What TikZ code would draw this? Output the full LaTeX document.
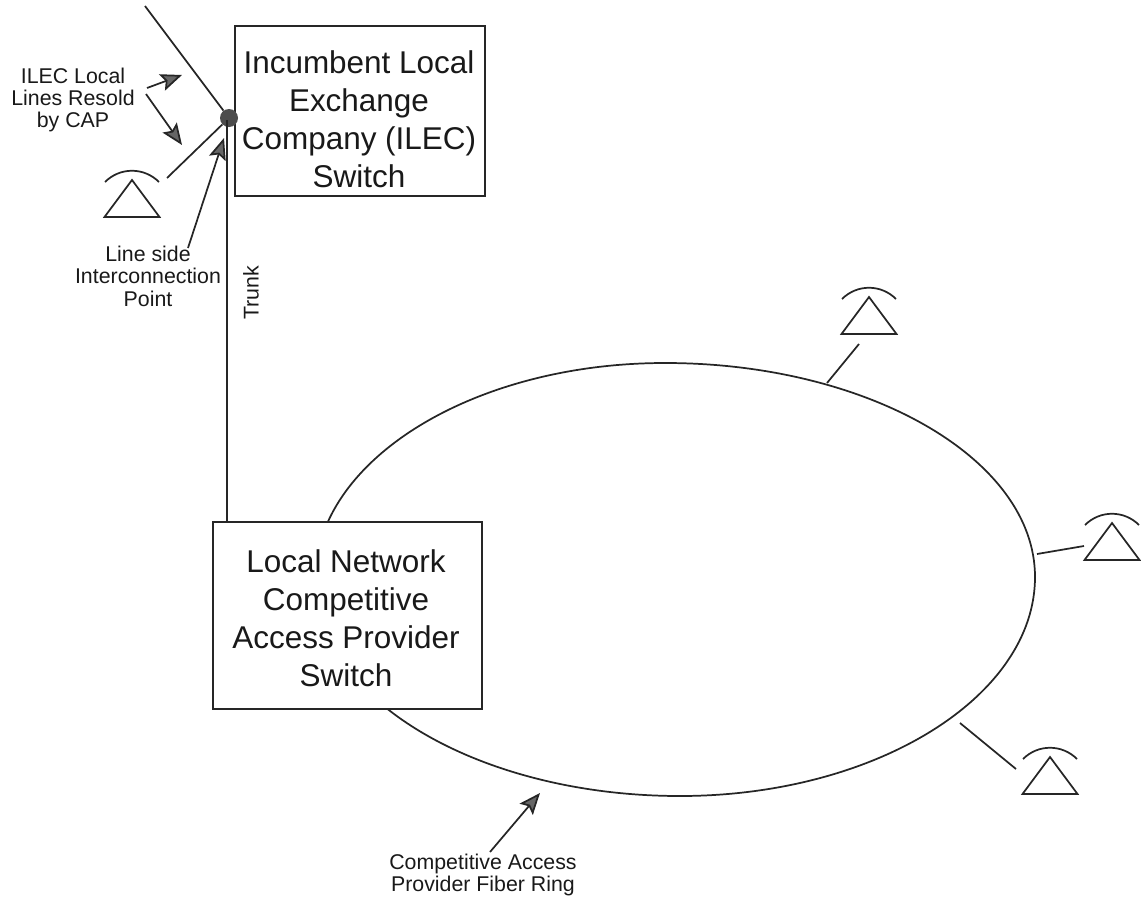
\documentclass[tikz,border=0pt]{standalone}
\usepackage{fontspec}
\setmainfont{Liberation Sans}
\usetikzlibrary{arrows.meta}
\tikzset{
  ln/.style={draw=black!85,line width=1.3pt},
  boxnode/.style={draw=black!85,line width=1.3pt,fill=white,inner sep=0pt,anchor=north west},
  bigtext/.style={font=\fontsize{23.6}{28.5}\selectfont,align=center,inner sep=0pt,text=black!90},
  smalltext/.style={font=\fontsize{16}{16.8}\selectfont,align=center,inner sep=0pt,text=black!90},
  ptr/.style={draw=black!85,line width=1.3pt,-{Stealth[length=16pt,width=13pt,inset=3pt,fill=black!60]}},
  phone/.pic={
    \draw[ln,line join=miter] (0,0) -- (-27.5,37) -- (27.5,37) -- cycle;
    \draw[ln] (-27,2) .. controls (-12,-13) and (12,-13) .. (27,2);
  }
}
\begin{document}
\begin{tikzpicture}[x=0.75pt,y=-0.75pt]
\useasboundingbox (0,0) rectangle (1141,903);
% ring
\draw[ln] (665,363) .. controls (868,363) and (1035,459) .. (1035,577)
  .. controls (1035,697) and (875,796) .. (680,796)
  .. controls (479,796) and (315,699) .. (315,580)
  .. controls (315,461) and (472,363) .. (665,363) -- cycle;
% trunk, lines
\coordinate (tr) at (227,120);
\node[boxnode,minimum width=269*0.75pt,minimum height=187*0.75pt] (cap) at (212,521) {};
\node[boxnode,fill=none,minimum width=250*0.75pt,minimum height=170*0.75pt] (ilec) at (234,25) {};
\node[circle,fill=black!70,inner sep=0pt,minimum size=13.5pt] (dot) at (229,118) {};
\draw[ln,line width=1.6pt] (tr) -- (tr |- cap.north);
\coordinate (lt) at (145,6);
\draw[ln] (lt) -- (dot);
\coordinate (p1) at (167,178);
\draw[ln] (p1) -- (dot);
% box text
\node[bigtext] (ilect) at (359,119) {Incumbent Local\\Exchange\\Company (ILEC)\\Switch};
\node[bigtext] (capt) at (346,618) {Local Network\\Competitive\\Access Provider\\Switch};
% phones
\pic at (132,180) {phone};
\pic at (869,297) {phone};
\pic at (1112,523) {phone};
\pic at (1050,757) {phone};
\coordinate (a1) at (827,383); \coordinate (a2) at (859,344);
\draw[ln] (a1) -- (a2);
\coordinate (b1) at (1037,554); \coordinate (b2) at (1084,546);
\draw[ln] (b1) -- (b2);
\coordinate (c1) at (960,723); \coordinate (c2) at (1016,769);
\draw[ln] (c1) -- (c2);
% labels
\node[smalltext] (l1) at (73,100) {ILEC Local\\Lines Resold\\by CAP};
\node[smalltext] (l2) at (148,276) {Line side\\Interconnection\\Point};
\node[smalltext,rotate=90] (l3) at (251,293) {Trunk};
\node[smalltext] (l4) at (483,875) {Competitive Access\\Provider Fiber Ring};
% pointers
\coordinate (e1) at (182,75); \coordinate (s1) at (147,88);
\coordinate (e2) at (182,145); \coordinate (s2) at (146,94);
\coordinate (e3) at (224,138); \coordinate (s3) at (188,248);
\coordinate (e4) at (540,793); \coordinate (s4) at (490,852);
\draw[ptr] (s1) -- (e1);
\draw[ptr] (s2) -- (e2);
\draw[ptr] (s3) -- (e3);
\draw[ptr] (s4) -- (e4);
\end{tikzpicture}
\end{document}
